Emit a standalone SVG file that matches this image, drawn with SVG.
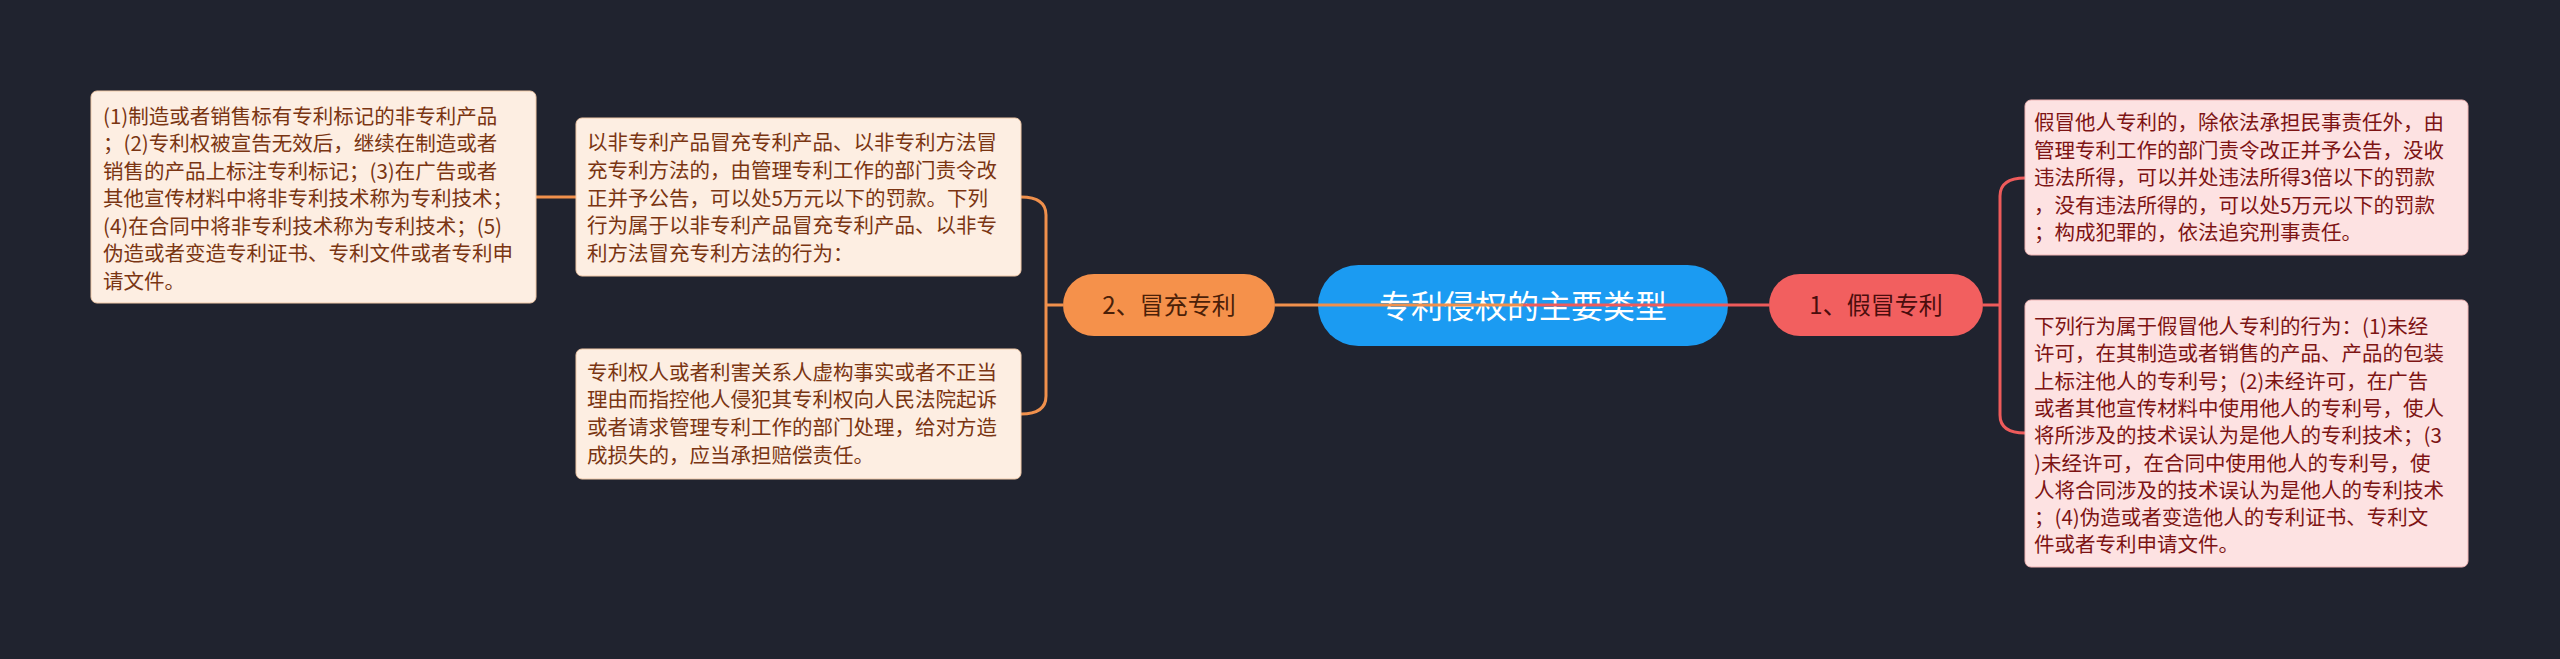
<svg xmlns="http://www.w3.org/2000/svg" width="2560" height="659" viewBox="0 0 2560 659">
<style>
text{font-family:"Noto Sans CJK SC","Noto Sans",sans-serif}
.lo{fill:#fdeee2;stroke:#f0c9a8;stroke-width:1}
.lt{fill:#7a3512;font-size:20.5px}
.ro{fill:#fde2e2;stroke:#f0b5b5;stroke-width:1}
.rt{fill:#7d1414;font-size:20.5px}
.co{fill:none;stroke:#f0904c;stroke-width:3}
.cr{fill:none;stroke:#ee5b5b;stroke-width:3}
</style>
<rect width="2560" height="659" fill="#20232f"/>
<g id="root"><rect x="1318" y="265" width="410" height="81" rx="40.5" fill="#1b9bf2"/><text x="1523" y="318" font-size="32" fill="#fff" text-anchor="middle">专利侵权的主要类型</text></g>
<g id="connectors">
<path class="cr" d="M1523 305H1769"/>
<path class="co" d="M1523 305H1275"/>
<path class="cr" d="M1983 305H2000M2000 305V196Q2000 178 2025 178M2000 305V415Q2000 433 2025 433"/>
<path class="co" d="M1063 305H1046M1046 305V215Q1046 197 1021 197M1046 305V396Q1046 414 1021 414"/>
<path class="co" d="M576 197H536"/>
</g>
<g id="n1"><rect x="1769" y="274" width="214" height="62" rx="31" fill="#f25f5f"/><text x="1876" y="314" font-size="24" fill="#4a0d0d" text-anchor="middle">1、假冒专利</text></g>
<g id="n2"><rect x="1063" y="274" width="212" height="62" rx="31" fill="#f5914b"/><text x="1169" y="314" font-size="24" fill="#4a2008" text-anchor="middle">2、冒充专利</text></g>
<g id="r1"><rect class="ro" x="2025" y="100" width="443" height="155" rx="6"/>
<text class="rt" x="2034"><tspan x="2034" y="130">假冒他人专利的，除依法承担民事责任外，由</tspan><tspan x="2034" y="158">管理专利工作的部门责令改正并予公告，没收</tspan><tspan x="2034" y="185">违法所得，可以并处违法所得3倍以下的罚款</tspan><tspan x="2034" y="213">，没有违法所得的，可以处5万元以下的罚款</tspan><tspan x="2034" y="240">；构成犯罪的，依法追究刑事责任。</tspan></text></g>
<g id="r2"><rect class="ro" x="2025" y="300" width="443" height="267" rx="6"/>
<text class="rt"><tspan x="2034" y="334">下列行为属于假冒他人专利的行为：(1)未经</tspan><tspan x="2034" y="361">许可，在其制造或者销售的产品、产品的包装</tspan><tspan x="2034" y="389">上标注他人的专利号；(2)未经许可，在广告</tspan><tspan x="2034" y="416">或者其他宣传材料中使用他人的专利号，使人</tspan><tspan x="2034" y="443">将所涉及的技术误认为是他人的专利技术；(3</tspan><tspan x="2034" y="471">)未经许可，在合同中使用他人的专利号，使</tspan><tspan x="2034" y="498">人将合同涉及的技术误认为是他人的专利技术</tspan><tspan x="2034" y="525">；(4)伪造或者变造他人的专利证书、专利文</tspan><tspan x="2034" y="552">件或者专利申请文件。</tspan></text></g>
<g id="l1"><rect class="lo" x="576" y="118" width="445" height="158" rx="6"/>
<text class="lt"><tspan x="587" y="150">以非专利产品冒充专利产品、以非专利方法冒</tspan><tspan x="587" y="178">充专利方法的，由管理专利工作的部门责令改</tspan><tspan x="587" y="206">正并予公告，可以处5万元以下的罚款。下列</tspan><tspan x="587" y="233">行为属于以非专利产品冒充专利产品、以非专</tspan><tspan x="587" y="261">利方法冒充专利方法的行为：</tspan></text></g>
<g id="l2"><rect class="lo" x="576" y="349" width="445" height="130" rx="6"/>
<text class="lt"><tspan x="587" y="380">专利权人或者利害关系人虚构事实或者不正当</tspan><tspan x="587" y="407">理由而指控他人侵犯其专利权向人民法院起诉</tspan><tspan x="587" y="435">或者请求管理专利工作的部门处理，给对方造</tspan><tspan x="587" y="463">成损失的，应当承担赔偿责任。</tspan></text></g>
<g id="l0"><rect class="lo" x="91" y="91" width="445" height="212" rx="6"/>
<text class="lt"><tspan x="103" y="124"> (1)制造或者销售标有专利标记的非专利产品</tspan><tspan x="103" y="151">；(2)专利权被宣告无效后，继续在制造或者</tspan><tspan x="103" y="179">销售的产品上标注专利标记；(3)在广告或者</tspan><tspan x="103" y="206">其他宣传材料中将非专利技术称为专利技术；</tspan><tspan x="103" y="234">(4)在合同中将非专利技术称为专利技术；(5)</tspan><tspan x="103" y="261">伪造或者变造专利证书、专利文件或者专利申</tspan><tspan x="103" y="289">请文件。</tspan></text></g>
</svg>
